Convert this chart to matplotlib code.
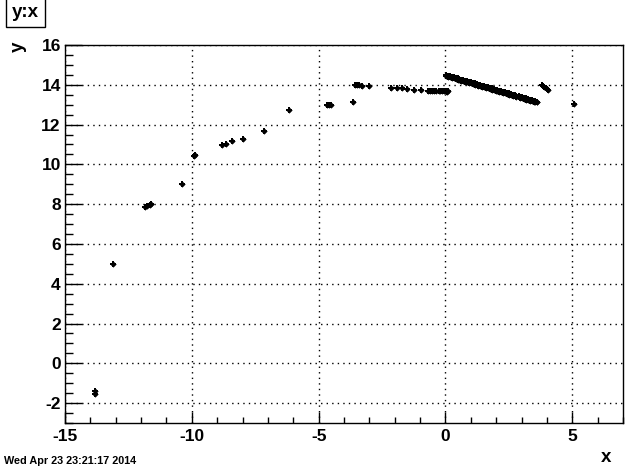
import matplotlib.pyplot as plt
from matplotlib.ticker import MultipleLocator

# scattered points
x_pts = [-13.8, -13.8, -13.12, -11.85, -11.75, -11.65, -11.6, -10.37, -9.92, -9.88,
         -8.8, -8.64, -8.43, -8.0, -7.15, -6.17, -4.66, -4.58, -4.52, -3.63,
         -3.58, -3.5, -3.42, -3.3, -3.02, -2.13, -1.93, -1.73, -1.51, -1.25,
         -0.96, -0.67, -0.6, -0.52, -0.45, -0.39, -0.27, -0.2, -0.12, -0.05,
         0.02, 0.08, 0.12, 3.8, 3.85, 3.9, 3.95, 4.0, 4.04, 5.08]
y_pts = [-1.38, -1.52, 4.98, 7.85, 7.9, 7.96, 8.03, 9.03, 10.42, 10.48,
         10.95, 11.0, 11.15, 11.28, 11.68, 12.73, 12.98, 12.99, 12.98, 13.13,
         13.98, 13.99, 13.97, 13.95, 13.93, 13.85, 13.85, 13.85, 13.77, 13.74,
         13.74, 13.71, 13.7, 13.7, 13.69, 13.7, 13.68, 13.67, 13.67, 13.68,
         13.67, 13.66, 13.67, 13.98, 13.93, 13.88, 13.83, 13.78, 13.74, 13.03]

# dense band of points from 0 to 3.6
x_band = [0.04, 0.1, 0.18, 0.25, 0.33, 0.4, 0.48, 0.55, 0.63, 0.7,
          0.78, 0.85, 0.93, 1.0, 1.08, 1.15, 1.23, 1.3, 1.38, 1.45,
          1.53, 1.6, 1.68, 1.75, 1.83, 1.9, 1.98, 2.05, 2.13, 2.2,
          2.28, 2.35, 2.43, 2.5, 2.58, 2.65, 2.73, 2.8, 2.88, 2.95,
          3.03, 3.1, 3.18, 3.25, 3.33, 3.4, 3.48, 3.55, 3.61]
y_band = [14.49, 14.46, 14.43, 14.41, 14.37, 14.35, 14.32, 14.29, 14.26, 14.24,
          14.21, 14.18, 14.15, 14.12, 14.1, 14.07, 14.04, 14.01, 13.98, 13.96,
          13.93, 13.9, 13.87, 13.85, 13.82, 13.79, 13.76, 13.73, 13.71, 13.68,
          13.65, 13.62, 13.6, 13.57, 13.54, 13.51, 13.48, 13.46, 13.43, 13.4,
          13.37, 13.35, 13.32, 13.29, 13.26, 13.23, 13.21, 13.18, 13.15]
y_band_lo = [14.43, 14.4, 14.37, 14.35, 14.32, 14.29, 14.26, 14.24, 14.21, 14.18,
             14.15, 14.13, 14.1, 14.07, 14.04, 14.01, 13.99, 13.96, 13.93, 13.9,
             13.88, 13.85, 13.82, 13.79, 13.76, 13.74, 13.71, 13.68, 13.65, 13.63,
             13.6, 13.57, 13.54, 13.51, 13.49, 13.46, 13.43, 13.4, 13.38, 13.35,
             13.32, 13.29, 13.26, 13.24, 13.21, 13.18, 13.15, 13.13, 13.11]

x_ticks = [-15, -10, -5, 0, 5]
y_ticks = [-2, 0, 2, 4, 6, 8, 10, 12, 14, 16]

font = "Liberation Sans"


def main() -> None:
    plt.rcParams["axes.unicode_minus"] = False
    fig = plt.figure(figsize=(6.34, 4.70), dpi=100)
    ax = fig.add_axes([65 / 634, 47 / 470, 558 / 634, 378 / 470])

    for mk, ms in (("P", 5), ("D", 3.2)):
        kw = dict(marker=mk, markersize=ms, color="black", linestyle="none",
                  markeredgewidth=0)
        ax.plot(x_pts, y_pts, **kw)
        ax.plot(x_band, y_band, **kw)
        ax.plot(x_band, y_band_lo, **kw)

    ax.set_xlim(-15, 7)
    ax.set_ylim(-3, 16)
    ax.set_xticks(x_ticks)
    ax.set_yticks(y_ticks)
    ax.xaxis.set_minor_locator(MultipleLocator(1))
    ax.yaxis.set_minor_locator(MultipleLocator(0.5))
    ax.grid(True, which="major", linestyle=(0, (1, 3)), color="black", linewidth=1)

    ax.tick_params(axis="x", which="major", direction="in", length=8, width=1,
                   top=False, pad=4)
    ax.tick_params(axis="x", which="minor", direction="in", length=4, width=1, top=False)
    ax.tick_params(axis="y", which="major", direction="in", length=12, width=1,
                   right=False, pad=3)
    ax.tick_params(axis="y", which="minor", direction="in", length=6, width=1, right=False)
    for lab in ax.get_xticklabels() + ax.get_yticklabels():
        lab.set_fontfamily(font)
        lab.set_fontweight("bold")
        lab.set_fontsize(12.5)
    for sp in ax.spines.values():
        sp.set_linewidth(1)

    fig.text(601 / 634, 1 - 458 / 470, "x", family=font, weight="bold",
             fontsize=13.5, ha="left", va="center")
    fig.text(18 / 634, 1 - 47 / 470, "y", family=font, weight="bold",
             fontsize=13.5, ha="center", va="center", rotation=90)
    fig.text(4 / 634, 1 - 461 / 470, "Wed Apr 23 23:21:17 2014", family=font,
             weight="bold", fontsize=7.8, ha="left", va="center")
    fig.text(25.5 / 634, 1 - 12.5 / 470, "y:x", family=font, weight="bold",
             fontsize=13.5, ha="center", va="center",
             bbox=dict(boxstyle="square,pad=0.3", facecolor="white",
                       edgecolor="black", linewidth=1))

    fig.savefig("out.png", dpi=100)


if __name__ == "__main__":
    main()
